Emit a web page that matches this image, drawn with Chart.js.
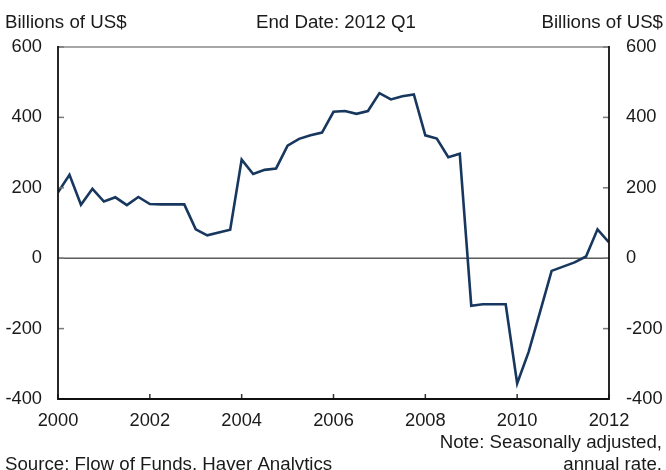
<!DOCTYPE html>
<html><head><meta charset="utf-8">
<script src="https://cdn.jsdelivr.net/npm/chart.js@4/dist/chart.umd.min.js"></script>
<style>html,body{margin:0;padding:0;background:#fff;overflow:hidden}</style>
</head><body><canvas id="c" width="666" height="470"></canvas>
<script>
const quarters = [
  '2000Q1','2000Q2','2000Q3','2000Q4',
  '2001Q1','2001Q2','2001Q3','2001Q4',
  '2002Q1','2002Q2','2002Q3','2002Q4',
  '2003Q1','2003Q2','2003Q3','2003Q4',
  '2004Q1','2004Q2','2004Q3','2004Q4',
  '2005Q1','2005Q2','2005Q3','2005Q4',
  '2006Q1','2006Q2','2006Q3','2006Q4',
  '2007Q1','2007Q2','2007Q3','2007Q4',
  '2008Q1','2008Q2','2008Q3','2008Q4',
  '2009Q1','2009Q2','2009Q3','2009Q4',
  '2010Q1','2010Q2','2010Q3','2010Q4',
  '2011Q1','2011Q2','2011Q3','2011Q4',
  '2012Q1'
];
const values = [
  187, 237, 152, 197,
  161, 173, 151, 174,
  154, 153, 153, 153,
  82, 65, 73, 81,
  280, 239, 251, 255,
  320, 339, 349, 357,
  416, 418, 410, 418,
  469, 451, 460, 465,
  349, 340, 287, 297,
  -135, -131, -131, -131,
  -356, -266, -152, -36,
  -24, -12, 5, 82,
  45
];
const yTicks = [-400, -200, 0, 200, 400, 600];
const xTicks = [2000, 2002, 2004, 2006, 2008, 2010, 2012];
const unitLabel = 'Billions of US$';
const titleText = 'End Date: 2012 Q1';
const noteLines = ['Note: Seasonally adjusted,', 'annual rate.'];
const sourceText = 'Source: Flow of Funds, Haver Analytics';

const FONT = '"Liberation Sans", Arial, sans-serif';
const TXT = '#1a1a1a';

function qToX(q) { return parseInt(q.slice(0, 4)) + (parseInt(q.slice(5)) - 1) / 4; }

const framePlugin = {
  id: 'frame',
  beforeDatasetsDraw(chart) {
    const { ctx, chartArea: a, scales } = chart;
    const y0 = scales.y.getPixelForValue(0);
    ctx.save();
    ctx.strokeStyle = '#5a5a5a';
    ctx.lineWidth = 1.5;
    ctx.beginPath(); ctx.moveTo(a.left, y0); ctx.lineTo(a.right, y0); ctx.stroke();
    ctx.strokeStyle = '#8a8a8a';
    ctx.beginPath(); ctx.moveTo(a.left, a.top); ctx.lineTo(a.right, a.top); ctx.stroke();
    ctx.restore();
  },
  afterDatasetsDraw(chart) {
    const { ctx, chartArea: a, scales } = chart;
    ctx.save();
    ctx.strokeStyle = '#7a7a7a';
    ctx.lineWidth = 1.5;
    yTicks.forEach(v => {
      const py = scales.y.getPixelForValue(v);
      ctx.beginPath(); ctx.moveTo(a.left, py); ctx.lineTo(a.left + 6, py); ctx.stroke();
      const pr = scales.y2.getPixelForValue(v);
      ctx.beginPath(); ctx.moveTo(a.right, pr); ctx.lineTo(a.right - 6, pr); ctx.stroke();
    });
    ctx.strokeStyle = '#333';
    xTicks.forEach(v => {
      const px = scales.x.getPixelForValue(v);
      ctx.beginPath(); ctx.moveTo(px, a.bottom); ctx.lineTo(px, a.bottom - 5); ctx.stroke();
    });
    ctx.strokeStyle = '#111';
    ctx.lineWidth = 1.8;
    ctx.beginPath();
    ctx.moveTo(a.left, a.top - 1); ctx.lineTo(a.left, a.bottom); ctx.lineTo(a.right, a.bottom); ctx.lineTo(a.right, a.top - 1);
    ctx.stroke();
    ctx.fillStyle = TXT;
    ctx.font = '18.7px ' + FONT;
    ctx.textBaseline = 'alphabetic';
    ctx.textAlign = 'left'; ctx.fillText(unitLabel, 5, 28);
    ctx.textAlign = 'center'; ctx.fillText(titleText, 336, 28);
    ctx.textAlign = 'right'; ctx.fillText(unitLabel, 663, 28);
    ctx.fillText(noteLines[0], 662, 448);
    ctx.fillText(noteLines[1], 662, 470);
    ctx.textAlign = 'left'; ctx.fillText(sourceText, 5, 470);
    ctx.restore();
  }
};

const tickFont = { family: FONT, size: 18.3 };

new Chart(document.getElementById('c'), {
  type: 'line',
  data: {
    datasets: [{
      data: quarters.map((q, i) => ({ x: qToX(q), y: values[i] })),
      borderColor: '#17375e',
      borderWidth: 2.6,
      pointRadius: 0,
      tension: 0,
      fill: false
    }]
  },
  options: {
    responsive: false,
    animation: false,
    events: [],
    layout: { padding: { top: 47, left: 0, right: 0, bottom: 0 } },
    plugins: { legend: { display: false }, tooltip: { enabled: false }, title: { display: false } },
    scales: {
      x: {
        type: 'linear', min: 2000, max: 2012,
        afterBuildTicks(s) { s.ticks = xTicks.map(v => ({ value: v })); },
        ticks: { font: tickFont, color: TXT, padding: 11, maxRotation: 0, autoSkip: false, callback: v => String(v) },
        grid: { display: false, drawTicks: false },
        border: { display: false },
        afterFit(s) { s.height = 71; }
      },
      y: {
        position: 'left', min: -400, max: 600,
        afterBuildTicks(s) { s.ticks = yTicks.map(v => ({ value: v })); },
        ticks: { font: tickFont, color: TXT, padding: 16 },
        grid: { display: false, drawTicks: false },
        border: { display: false },
        afterFit(s) { s.width = 58; }
      },
      y2: {
        position: 'right', min: -400, max: 600,
        afterBuildTicks(s) { s.ticks = yTicks.map(v => ({ value: v })); },
        ticks: { font: tickFont, color: TXT, padding: 17 },
        grid: { display: false, drawTicks: false },
        border: { display: false },
        afterFit(s) { s.width = 57; }
      }
    }
  },
  plugins: [framePlugin]
});
</script>
</body></html>
